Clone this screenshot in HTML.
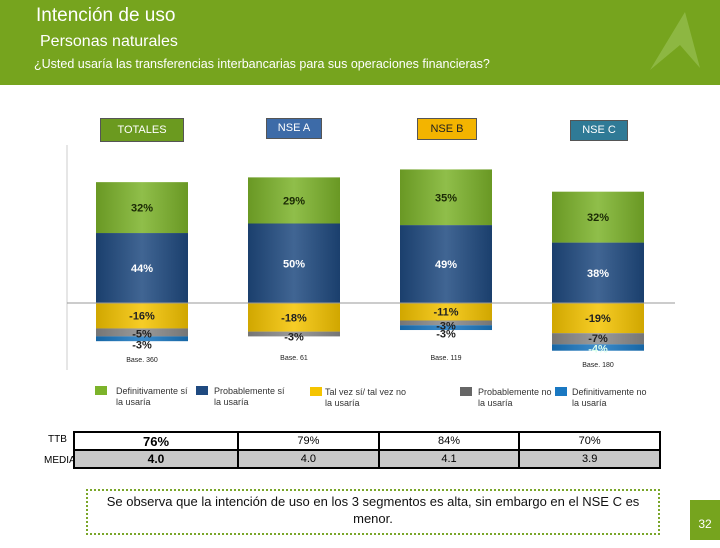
<!DOCTYPE html>
<html><head><meta charset="utf-8"><style>
body{margin:0;width:720px;height:540px;background:#fff;font-family:"Liberation Sans",sans-serif;position:relative;overflow:hidden}
.abs{position:absolute}
.hdr{left:0;top:0;width:720px;height:85px;background:#76a41e}
.lab{font-size:11px;color:#fff;text-align:center;border:1px solid #555}
.leg{font-size:9px;color:#333;line-height:11px}
.sq{width:12px;height:9px}
td{border:2px solid #000;text-align:center;font-size:11px;height:16px;padding:0}
</style></head><body>
<div class="abs hdr"></div>
<div class="abs" style="left:36px;top:5px;font-size:19px;color:#fff">Intención de uso</div>
<div class="abs" style="left:40px;top:33px;font-size:16px;color:#fff">Personas naturales</div>
<div class="abs" style="left:34px;top:57px;font-size:12.5px;color:#fff">¿Usted usaría las transferencias interbancarias para sus operaciones financieras?</div>
<svg class="abs" style="left:640px;top:10px" width="75" height="65"><path d="M45 2 L10 60 L40 35 L60 58 Z" fill="#9cc55a" opacity="0.6"/></svg>

<div class="abs lab" style="left:100px;top:118px;width:82px;height:22px;line-height:22px;background:#6b9a1f">TOTALES</div>
<div class="abs lab" style="left:266px;top:118px;width:54px;height:19px;line-height:19px;background:#3d6ba8">NSE A</div>
<div class="abs lab" style="left:417px;top:118px;width:58px;height:20px;line-height:20px;background:#f3b400;color:#222">NSE B</div>
<div class="abs lab" style="left:570px;top:120px;width:56px;height:19px;line-height:19px;background:#2f7a96">NSE C</div>

<svg class="abs" style="left:0;top:0" width="720" height="380" id="chart">
<defs><linearGradient id="cyl" x1="0" x2="1" y1="0" y2="0"><stop offset="0" stop-color="#000" stop-opacity="0.15"/><stop offset="0.5" stop-color="#fff" stop-opacity="0.15"/><stop offset="1" stop-color="#000" stop-opacity="0.15"/></linearGradient></defs>
</svg>

<div class="abs sq" style="left:95px;top:386px;background:#7cb32a"></div>
<div class="abs leg" style="left:116px;top:386px">Definitivamente sí<br>la usaría</div>
<div class="abs sq" style="left:196px;top:386px;background:#1f4a80"></div>
<div class="abs leg" style="left:214px;top:386px">Probablemente sí<br>la usaría</div>
<div class="abs sq" style="left:310px;top:387px;background:#f5c400"></div>
<div class="abs leg" style="left:325px;top:387px">Tal vez sí/ tal vez no<br>la usaría</div>
<div class="abs sq" style="left:460px;top:387px;background:#666"></div>
<div class="abs leg" style="left:478px;top:387px">Probablemente no<br>la usaría</div>
<div class="abs sq" style="left:555px;top:387px;background:#1a78c2"></div>
<div class="abs leg" style="left:572px;top:387px">Definitivamente no<br>la usaría</div>

<div class="abs" style="left:48px;top:434px;font-size:10px">TTB</div>
<div class="abs" style="left:44px;top:455px;font-size:10px">MEDIA</div>
<table class="abs" style="left:73px;top:431px;width:588px;border-collapse:collapse">
<tr style="background:#fff"><td style="font-size:13px;font-weight:bold">76%</td><td>79%</td><td>84%</td><td>70%</td></tr>
<tr style="background:#c8c8c8"><td style="font-size:12px;font-weight:bold">4.0</td><td>4.0</td><td>4.1</td><td>3.9</td></tr>
</table>
<div class="abs" style="left:86px;top:489px;width:570px;height:40px;border:2px dotted #7aa62a;font-size:13px;text-align:center;line-height:17px;color:#111;padding-top:2px">Se observa que la intención de uso en los 3 segmentos es alta, sin embargo en el NSE C es<br>menor.</div>
<div class="abs" style="left:690px;top:500px;width:30px;height:40px;background:#76a41e;color:#fff;font-size:12px;text-align:center;line-height:48px">32</div>

<script>
const groups=["TOTALES","NSE A","NSE B","NSE C"];
const defSi=[32,29,35,32];
const probSi=[44,50,49,38];
const talVez=[16,18,11,19];
const probNo=[5,3,3,7];
const defNo=[3,0,3,4];
const bases=["Base. 360","Base. 61","Base. 119","Base. 180"];
const svg=document.getElementById('chart');
const NS='http://www.w3.org/2000/svg';
const y0=303,k=1.59,bw=92;
const xs=i=>142+i*152-bw/2;
const Y=v=>y0-v*k;
function el(t,a){const e=document.createElementNS(NS,t);for(const n in a)e.setAttribute(n,a[n]);svg.appendChild(e);return e;}
let ax=el('line',{x1:67,y1:145,x2:67,y2:370,stroke:'#ccc'});

groups.forEach((g,i)=>{
  const x=xs(i);
  const segs=[[0,probSi[i],'#1f4a80'],[probSi[i],probSi[i]+defSi[i],'#7cb32a'],
    [0,-talVez[i],'#f5c400'],[-talVez[i],-talVez[i]-probNo[i],'#8a8a8a'],
    [-talVez[i]-probNo[i],-talVez[i]-probNo[i]-defNo[i],'#1a78c2']];
  const names=['prob-si','def-si','tal-vez','prob-no','def-no'];
  segs.forEach((s,j)=>{
    const a=Y(Math.max(s[0],s[1])),b=Y(Math.min(s[0],s[1]));
    if(b-a<=0)return;
    const r=el('rect',{x:x,y:a,width:bw,height:b-a,fill:s[2]});
    
    
  });
  const top=Y(probSi[i]+defSi[i]),bot=Y(-talVez[i]-probNo[i]-defNo[i]);
  const sh=el('rect',{x:x,y:top,width:bw,height:bot-top,fill:'url(#cyl)'});
  
  const lab=(v,yy,c)=>{const t=el('text',{x:x+bw/2,y:yy,'text-anchor':'middle','font-size':11,'font-weight':'bold',fill:c,'font-family':'Liberation Sans'});t.textContent=v+'%';
    };
  lab(defSi[i],(Y(probSi[i])+Y(probSi[i]+defSi[i]))/2+4,'#1b2a05');
  lab(probSi[i],(Y(0)+Y(probSi[i]))/2+4,'#fff');
  lab(-talVez[i],(Y(0)+Y(-talVez[i]))/2+4,'#222');
  lab(-probNo[i],Y(-talVez[i])+9,'#222');
  if(defNo[i]>0)lab(-defNo[i],Y(-talVez[i]-probNo[i])+(i==3?8:12),i==3?'#dfe':'#222');
  const bt=el('text',{x:x+bw/2,y:i==3?367:i==0?362:360,'text-anchor':'middle','font-size':7,fill:'#222','font-family':'Liberation Sans'});
  bt.textContent=bases[i];
});
const zl=el('line',{x1:67,y1:y0,x2:675,y2:y0,stroke:'#999','stroke-width':1});

</script>
</body></html>
